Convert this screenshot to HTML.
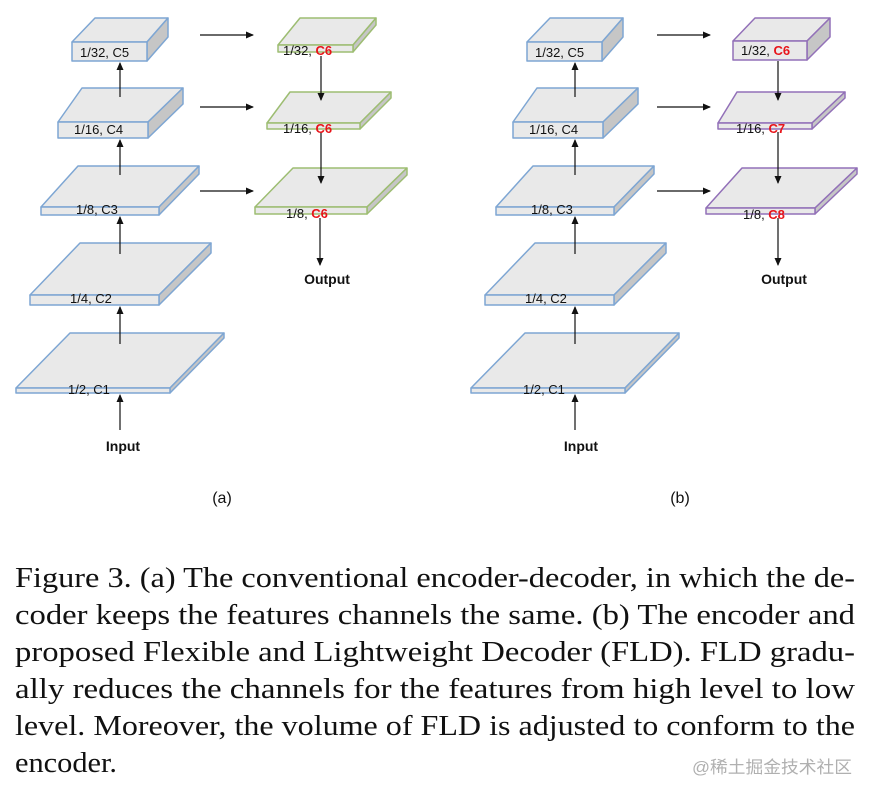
<!DOCTYPE html>
<html><head><meta charset="utf-8"><style>
html,body{margin:0;padding:0;background:#fff;width:870px;height:798px;overflow:hidden}
svg{display:block}
.l{font-family:"Liberation Sans",sans-serif;font-size:13px;fill:#111}
.r{fill:#e8141a;font-weight:bold}
.b{font-family:"Liberation Sans",sans-serif;font-size:14px;font-weight:bold;fill:#111}
.cap{font-family:"Liberation Serif",serif;font-size:28px;fill:#111}
</style></head><body>
<svg width="870" height="798" viewBox="0 0 870 798" xmlns="http://www.w3.org/2000/svg">
<defs><marker id="a" markerWidth="8" markerHeight="8" refX="7" refY="4" orient="auto" markerUnits="userSpaceOnUse"><path d="M0,0.5 L8,4 L0,7.5 z" fill="#111"/></marker></defs>
<g stroke-width="1.5" stroke-linejoin="round">
<g stroke="#7ea6d3">
<polygon points="72,42 95,18 168,18 147,42" fill="#e9e9e9"/><polygon points="147,42 168,18 168,37 147,61" fill="#c6c6c6"/><rect x="72" y="42" width="75" height="19" fill="#e9e9e9"/>
<polygon points="58,122 82,88 183,88 148,122" fill="#e9e9e9"/><polygon points="148,122 183,88 183,104 148,138" fill="#c6c6c6"/><rect x="58" y="122" width="90" height="16" fill="#e9e9e9"/>
<polygon points="41,207 78,166 199,166 159,207" fill="#e9e9e9"/><polygon points="159,207 199,166 199,174 159,215" fill="#c6c6c6"/><rect x="41" y="207" width="118" height="8" fill="#e9e9e9"/>
<polygon points="30,295 80,243 211,243 159,295" fill="#e9e9e9"/><polygon points="159,295 211,243 211,253 159,305" fill="#c6c6c6"/><rect x="30" y="295" width="129" height="10" fill="#e9e9e9"/>
<polygon points="16,388 70,333 224,333 170,388" fill="#e9e9e9"/><polygon points="170,388 224,333 224,338 170,393" fill="#c6c6c6"/><rect x="16" y="388" width="154" height="5" fill="#e9e9e9"/>
</g>
<g stroke="#9dbd72">
<polygon points="278,45 300,18 376,18 353,45" fill="#e9e9e9"/><polygon points="353,45 376,18 376,25 353,52" fill="#c6c6c6"/><rect x="278" y="45" width="75" height="7" fill="#e9e9e9"/>
<polygon points="267,123 290,92 391,92 360,123" fill="#e9e9e9"/><polygon points="360,123 391,92 391,98 360,129" fill="#c6c6c6"/><rect x="267" y="123" width="93" height="6" fill="#e9e9e9"/>
<polygon points="255,207 293,168 407,168 367,207" fill="#e9e9e9"/><polygon points="367,207 407,168 407,175 367,214" fill="#c6c6c6"/><rect x="255" y="207" width="112" height="7" fill="#e9e9e9"/>
</g>
<g stroke="#7ea6d3">
<polygon points="527,42 550,18 623,18 602,42" fill="#e9e9e9"/><polygon points="602,42 623,18 623,37 602,61" fill="#c6c6c6"/><rect x="527" y="42" width="75" height="19" fill="#e9e9e9"/>
<polygon points="513,122 537,88 638,88 603,122" fill="#e9e9e9"/><polygon points="603,122 638,88 638,104 603,138" fill="#c6c6c6"/><rect x="513" y="122" width="90" height="16" fill="#e9e9e9"/>
<polygon points="496,207 533,166 654,166 614,207" fill="#e9e9e9"/><polygon points="614,207 654,166 654,174 614,215" fill="#c6c6c6"/><rect x="496" y="207" width="118" height="8" fill="#e9e9e9"/>
<polygon points="485,295 535,243 666,243 614,295" fill="#e9e9e9"/><polygon points="614,295 666,243 666,253 614,305" fill="#c6c6c6"/><rect x="485" y="295" width="129" height="10" fill="#e9e9e9"/>
<polygon points="471,388 525,333 679,333 625,388" fill="#e9e9e9"/><polygon points="625,388 679,333 679,338 625,393" fill="#c6c6c6"/><rect x="471" y="388" width="154" height="5" fill="#e9e9e9"/>
</g>
<g stroke="#9270b8">
<polygon points="733,41 755,18 830,18 807,41" fill="#e9e9e9"/><polygon points="807,41 830,18 830,37 807,60" fill="#c6c6c6"/><rect x="733" y="41" width="74" height="19" fill="#e9e9e9"/>
<polygon points="718,123 737,92 845,92 812,123" fill="#e9e9e9"/><polygon points="812,123 845,92 845,98 812,129" fill="#c6c6c6"/><rect x="718" y="123" width="94" height="6" fill="#e9e9e9"/>
<polygon points="706,208 742,168 857,168 815,208" fill="#e9e9e9"/><polygon points="815,208 857,168 857,174 815,214" fill="#c6c6c6"/><rect x="706" y="208" width="109" height="6" fill="#e9e9e9"/>
</g>
</g>
<g stroke="#111" stroke-width="1.2" marker-end="url(#a)">
<line x1="120" y1="97" x2="120" y2="63"/><line x1="120" y1="175" x2="120" y2="140"/><line x1="120" y1="254" x2="120" y2="217"/><line x1="120" y1="344" x2="120" y2="307"/><line x1="120" y1="430" x2="120" y2="395"/>
<line x1="200" y1="35" x2="253" y2="35"/><line x1="200" y1="107" x2="253" y2="107"/><line x1="200" y1="191" x2="253" y2="191"/>
<line x1="321" y1="56" x2="321" y2="100"/><line x1="321" y1="132" x2="321" y2="183"/><line x1="320" y1="218" x2="320" y2="265"/>
<line x1="575" y1="97" x2="575" y2="63"/><line x1="575" y1="175" x2="575" y2="140"/><line x1="575" y1="254" x2="575" y2="217"/><line x1="575" y1="344" x2="575" y2="307"/><line x1="575" y1="430" x2="575" y2="395"/>
<line x1="657" y1="35" x2="710" y2="35"/><line x1="657" y1="107" x2="710" y2="107"/><line x1="657" y1="191" x2="710" y2="191"/>
<line x1="778" y1="61" x2="778" y2="100"/><line x1="778" y1="132" x2="778" y2="183"/><line x1="778" y1="218" x2="778" y2="265"/>
</g>
<text class="l" x="80" y="57">1/32, C5</text><text class="l" x="74" y="134">1/16, C4</text><text class="l" x="76" y="214">1/8, C3</text><text class="l" x="70" y="303">1/4, C2</text><text class="l" x="68" y="394">1/2, C1</text>
<text class="l" x="283" y="55">1/32, <tspan class="r">C6</tspan></text><text class="l" x="283" y="133">1/16, <tspan class="r">C6</tspan></text><text class="l" x="286" y="218">1/8, <tspan class="r">C6</tspan></text>
<text class="l" x="535" y="57">1/32, C5</text><text class="l" x="529" y="134">1/16, C4</text><text class="l" x="531" y="214">1/8, C3</text><text class="l" x="525" y="303">1/4, C2</text><text class="l" x="523" y="394">1/2, C1</text>
<text class="l" x="741" y="55">1/32, <tspan class="r">C6</tspan></text><text class="l" x="736" y="133">1/16, <tspan class="r">C7</tspan></text><text class="l" x="743" y="219">1/8, <tspan class="r">C8</tspan></text>
<text class="b" x="123" y="451" text-anchor="middle">Input</text><text class="b" x="327" y="284" text-anchor="middle">Output</text>
<text class="b" x="581" y="451" text-anchor="middle">Input</text><text class="b" x="784" y="284" text-anchor="middle">Output</text>
<text x="222" y="503" text-anchor="middle" font-family="Liberation Sans,sans-serif" font-size="16" fill="#111">(a)</text>
<text x="680" y="503" text-anchor="middle" font-family="Liberation Sans,sans-serif" font-size="16" fill="#111">(b)</text>
<text class="cap" x="15" y="587" textLength="840" lengthAdjust="spacingAndGlyphs">Figure 3. (a) The conventional encoder-decoder, in which the de-</text>
<text class="cap" x="15" y="624" textLength="840" lengthAdjust="spacingAndGlyphs">coder keeps the features channels the same.  (b) The encoder and</text>
<text class="cap" x="15" y="661" textLength="840" lengthAdjust="spacingAndGlyphs">proposed Flexible and Lightweight Decoder (FLD). FLD gradu-</text>
<text class="cap" x="15" y="698" textLength="840" lengthAdjust="spacingAndGlyphs">ally reduces the channels for the features from high level to low</text>
<text class="cap" x="15" y="735" textLength="840" lengthAdjust="spacingAndGlyphs">level. Moreover, the volume of FLD is adjusted to conform to the</text>
<text class="cap" x="15" y="772" textLength="102" lengthAdjust="spacingAndGlyphs">encoder.</text>
<text x="692" y="773" font-family="Liberation Sans,Noto Sans CJK SC,sans-serif" font-size="17" fill="#b0b0b0" textLength="160" lengthAdjust="spacingAndGlyphs">@稀土掘金技术社区</text>
</svg>
</body></html>
